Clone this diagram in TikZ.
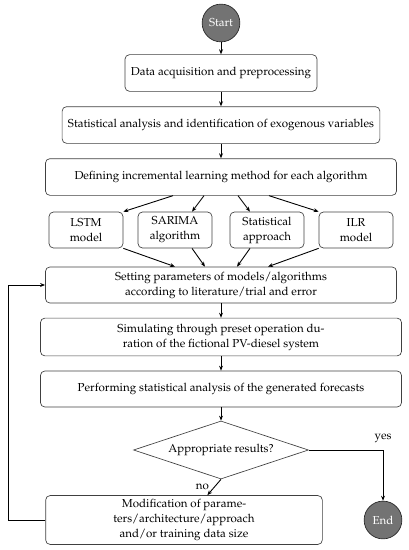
\documentclass[tikz,border=0pt]{standalone}
\usepackage[T1]{fontenc}
\usepackage{mathpazo}
\usetikzlibrary{arrows.meta, positioning, shapes.geometric}

\begin{document}
\begin{tikzpicture}[node distance=46.8pt,on grid,>={Stealth[length=4.5pt,width=3.5pt]},line width=0.8pt,
	font=\fontsize{10.4pt}{13.5pt}\selectfont,
	box/.style={draw=black!75, line width=0.6pt, rounded corners=4pt, minimum height=33pt, align=center, inner sep=2pt},
	small/.style={box, minimum width=66.6pt, minimum height=32.4pt},
	term/.style={circle, draw=black!85, line width=0.6pt, fill=black!55, text=white, minimum size=34pt, inner sep=0pt}]
	
	\useasboundingbox (0,0) rectangle (367.2pt,-495pt);
	
	\node (start) [term] at (198.9pt,-20.7pt) {Start};
	\node (acq) [box, minimum width=172.8pt, below=45pt of start] {Data acquisition and preprocessing};
	\node (exo) [box, minimum width=286pt, below=of acq] {Statistical analysis and identification of exogenous variables};
	\node (incr) [box, minimum width=316pt, below=of exo] {Defining incremental learning method for each algorithm};
	
	\node (lstm) [small, below left=47.7pt and 121.5pt of incr] {LSTM\\model};
	\node (sarima) [small, below left=47.7pt and 41.4pt of incr] {SARIMA\\algorithm};
	\node (appr) [small, below right=47.7pt and 41.4pt of incr] {Statistical\\approach};
	\node (ilr) [small, below right=47.7pt and 121.5pt of incr] {ILR\\model};
	
	\node (param) [box, minimum width=316pt, minimum height=32.4pt, below=97.2pt of incr] {Setting parameters of models/algorithms\\according to literature/trial and error};
	\node (sim) [box, minimum width=325pt, minimum height=34pt, below=of param] {Simulating through preset operation du-\\ration of the fictional PV-diesel system};
	\node (perf) [box, minimum width=325pt, minimum height=32.4pt, below=of sim] {Performing statistical analysis of the generated forecasts};
	\node (check) [diamond, draw=black!75, line width=0.6pt, aspect=3, inner sep=1pt, minimum width=157.5pt, minimum height=52.2pt, below=54.9pt of perf] {Appropriate results?};
	\node (modif) [box, minimum width=249pt, minimum height=44pt, below left=63pt and 33.3pt of check] {Modification of parame-\\ters/architecture/approach\\and/or training data size};
	\node (end) [term, below right=63pt and 145.8pt of check] {End};
	
	\draw [->] (start) -- (acq);
	\draw [->] (acq) -- (exo);
	\draw [->] (exo) -- (incr);
	
	\draw [->] ([xshift=-43.2pt]incr.south) -- (lstm.north east);
	\draw [->] ([xshift=-15.3pt]incr.south) -- ([xshift=15.3pt]sarima.north);
	\draw [->] ([xshift=15.3pt]incr.south) -- ([xshift=-15.3pt]appr.north);
	\draw [->] ([xshift=43.2pt]incr.south) -- (ilr.north west);
	
	\draw [->] (lstm.south east) -- ([xshift=-41.4pt]param.north);
	\draw [->] ([xshift=15.3pt]sarima.south) -- ([xshift=-14.4pt]param.north);
	\draw [->] ([xshift=-15.3pt]appr.south) -- ([xshift=14.4pt]param.north);
	\draw [->] (ilr.south west) -- ([xshift=42.3pt]param.north);
	
	\draw [->] (param) -- (sim);
	\draw [->] (sim) -- (perf);
	\draw [->] (perf) -- (check);
	
	\draw [->] (check.east) -| node [pos=0.5, above=3pt] {yes} (end.north);
	\draw [->] (check.south) -- node [midway, left=1pt] {no} ([xshift=21pt]modif.north);
	\draw [->] (modif.west) -- ++(-33.3pt,0) |- (param.west);
	
\end{tikzpicture}
\end{document}
